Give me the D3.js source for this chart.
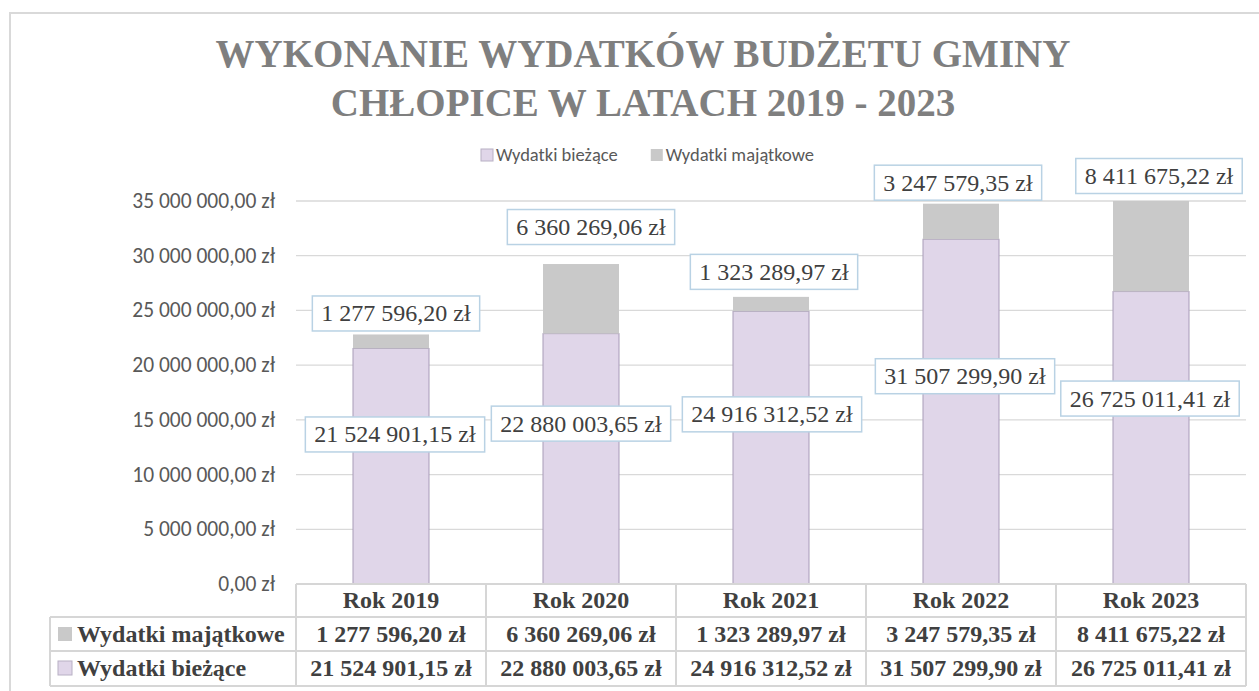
<!DOCTYPE html>
<html>
<head>
<meta charset="utf-8">
<script src="https://cdn.jsdelivr.net/npm/d3@7"></script>
<style>
  html, body { margin: 0; padding: 0; background: #fff; }
  svg { display: block; }
</style>
</head>
<body>
<svg id="chart" width="1259" height="691"></svg>
<script>
// Data
const years = ['Rok 2019', 'Rok 2020', 'Rok 2021', 'Rok 2022', 'Rok 2023'];
const biezace = [21524901.15, 22880003.65, 24916312.52, 31507299.90, 26725011.41];
const majatkowe = [1277596.20, 6360269.06, 1323289.97, 3247579.35, 8411675.22];
const seriesNames = ['Wydatki bieżące', 'Wydatki majątkowe'];
const yTicks = [0, 5000000, 10000000, 15000000, 20000000, 25000000, 30000000, 35000000];
const titleLines = ['WYKONANIE WYDATKÓW BUDŻETU GMINY', 'CHŁOPICE W LATACH 2019 - 2023'];

// Label placement (hand-moved in the original), px
const majLabelLift = [21, 37, 25, 21, 25];
const biezLabelDrop = [86, 90, 103, 137, 107];
const majLabelShift = [5, 10, 3, -3, 8];
const biezLabelShift = [4, 0, 1, 4, -1];

const colors = { biez: '#e0d6e9', biezStroke: '#a89bb8', maj: '#c9c9c9' };

const pl = d3.formatLocale({ decimal: ',', thousands: ' ', grouping: [3], currency: ['', ' zł'] });
const fmt = pl.format('$,.2f');

const svg = d3.select('#chart');
const sansFont = 'Carlito, Calibri, Lato, sans-serif';
const serifFont = '"Liberation Serif", "Times New Roman", serif';

// Outer frame
svg.append('rect')
    .attr('x', 10).attr('y', 13)
    .attr('width', 1270).attr('height', 700)
    .attr('fill', 'none')
    .attr('stroke', '#d9d9d9')
    .attr('stroke-width', 2);

// Title
svg.append('g').selectAll('text')
    .data(titleLines)
    .join('text')
    .attr('x', 643)
    .attr('y', (d, i) => 67 + i * 49)
    .attr('text-anchor', 'middle')
    .attr('font-family', serifFont)
    .attr('font-weight', 'bold')
    .attr('font-size', 39)
    .attr('fill', '#7f7f7f')
    .text(d => d);

// Scales
const plotLeft = 296, plotRight = 1246, plotTop = 201, plotBottom = 584;
const x = d3.scaleBand().domain(years).range([plotLeft, plotRight]).paddingInner(0.6).paddingOuter(0.3);
const y = d3.scaleLinear().domain([0, 35000000]).range([plotBottom, plotTop]).clamp(true);
const step = x.step();

// Gridlines
svg.append('g').selectAll('line')
    .data(yTicks.filter(d => d > 0))
    .join('line')
    .attr('x1', plotLeft).attr('x2', plotRight)
    .attr('y1', d => y(d)).attr('y2', d => y(d))
    .attr('stroke', '#d9d9d9')
    .attr('stroke-width', 1.3);

// Y axis labels
svg.append('g').selectAll('text')
    .data(yTicks)
    .join('text')
    .attr('x', 275)
    .attr('y', d => y(d) + 7)
    .attr('text-anchor', 'end')
    .attr('font-family', sansFont)
    .attr('font-size', 21.5)
    .attr('fill', '#595959')
    .text(d => fmt(d));

// Stacked bars
const rows = years.map((yr, i) => ({ year: yr, biez: biezace[i], maj: majatkowe[i] }));
const stack = d3.stack().keys(['biez', 'maj'])(rows);

svg.append('g').selectAll('g')
    .data(stack)
    .join('g')
    .each(function (layer) {
        d3.select(this).selectAll('rect')
            .data(layer)
            .join('rect')
            .attr('x', d => x(d.data.year))
            .attr('width', x.bandwidth())
            .attr('y', d => y(d[1]))
            .attr('height', d => y(d[0]) - y(d[1]))
            .attr('fill', layer.key === 'biez' ? colors.biez : colors.maj)
            .attr('stroke', layer.key === 'biez' ? colors.biezStroke : 'none')
            .attr('stroke-width', 1);
    });

// Data labels
function addLabel(g, cx, cy, txt) {
    const t = g.append('text')
        .attr('x', cx)
        .attr('y', cy + 8)
        .attr('text-anchor', 'middle')
        .attr('font-family', serifFont)
        .attr('font-size', 24)
        .attr('fill', '#404040')
        .text(txt);
    const w = t.node().getComputedTextLength() + 18;
    g.insert('rect', 'text')
        .attr('x', cx - w / 2)
        .attr('y', cy - 17.5)
        .attr('width', w)
        .attr('height', 35)
        .attr('fill', '#fff')
        .attr('stroke', '#b9d2e4')
        .attr('stroke-width', 1.5);
}

const labels = svg.append('g');
rows.forEach((d, i) => {
    const cx = x(d.year) + x.bandwidth() / 2;
    addLabel(labels.append('g'), cx + biezLabelShift[i], y(d.biez) + biezLabelDrop[i], fmt(d.biez));
    addLabel(labels.append('g'), cx + majLabelShift[i], y(d.biez + d.maj) - majLabelLift[i], fmt(d.maj));
});

// Legend
const legend = svg.append('g');
let lx = 481;
seriesNames.forEach((name, i) => {
    legend.append('rect')
        .attr('x', lx).attr('y', 149)
        .attr('width', 12).attr('height', 12)
        .attr('fill', i === 0 ? colors.biez : colors.maj)
        .attr('stroke', i === 0 ? '#b8b0c4' : 'none');
    const t = legend.append('text')
        .attr('x', lx + 15).attr('y', 161)
        .attr('font-family', sansFont)
        .attr('font-size', 18.5)
        .attr('fill', '#595959')
        .text(name);
    lx += 15 + t.node().getComputedTextLength() + 33;
});

// Data table
const table = svg.append('g');
const rowY = [plotBottom, 617, 651, 686];
const tableLeft = 50;
const lineColor = '#d6d6d6';

// horizontal lines
table.append('line').attr('x1', plotLeft).attr('x2', plotRight).attr('y1', rowY[0]).attr('y2', rowY[0]);
[rowY[1], rowY[2], rowY[3]].forEach(v => {
    table.append('line').attr('x1', tableLeft).attr('x2', plotRight).attr('y1', v).attr('y2', v);
});
// vertical lines
table.append('line').attr('x1', tableLeft).attr('x2', tableLeft).attr('y1', rowY[1]).attr('y2', rowY[3]);
d3.range(years.length + 1).forEach(k => {
    table.append('line')
        .attr('x1', plotLeft + k * step).attr('x2', plotLeft + k * step)
        .attr('y1', rowY[0]).attr('y2', rowY[3]);
});
table.selectAll('line').attr('stroke', lineColor).attr('stroke-width', 2);

function cellText(cx, cy, txt) {
    table.append('text')
        .attr('x', cx).attr('y', cy)
        .attr('text-anchor', 'middle')
        .attr('font-family', serifFont)
        .attr('font-weight', 'bold')
        .attr('font-size', 24)
        .attr('fill', '#404040')
        .text(txt);
}

years.forEach((yr, i) => {
    const cx = plotLeft + step * (i + 0.5);
    cellText(cx, 608, yr);
    cellText(cx, 642, fmt(majatkowe[i]));
    cellText(cx, 676, fmt(biezace[i]));
});

// table legend keys
[[seriesNames[1], colors.maj, 642], [seriesNames[0], colors.biez, 676]].forEach(([name, c, by]) => {
    table.append('rect')
        .attr('x', 58).attr('y', by - 15)
        .attr('width', 14).attr('height', 14)
        .attr('fill', c)
        .attr('stroke', c === colors.biez ? '#b8b0c4' : 'none');
    table.append('text')
        .attr('x', 77).attr('y', by)
        .attr('font-family', serifFont)
        .attr('font-weight', 'bold')
        .attr('font-size', 24)
        .attr('fill', '#404040')
        .text(name);
});
</script>
</body>
</html>
